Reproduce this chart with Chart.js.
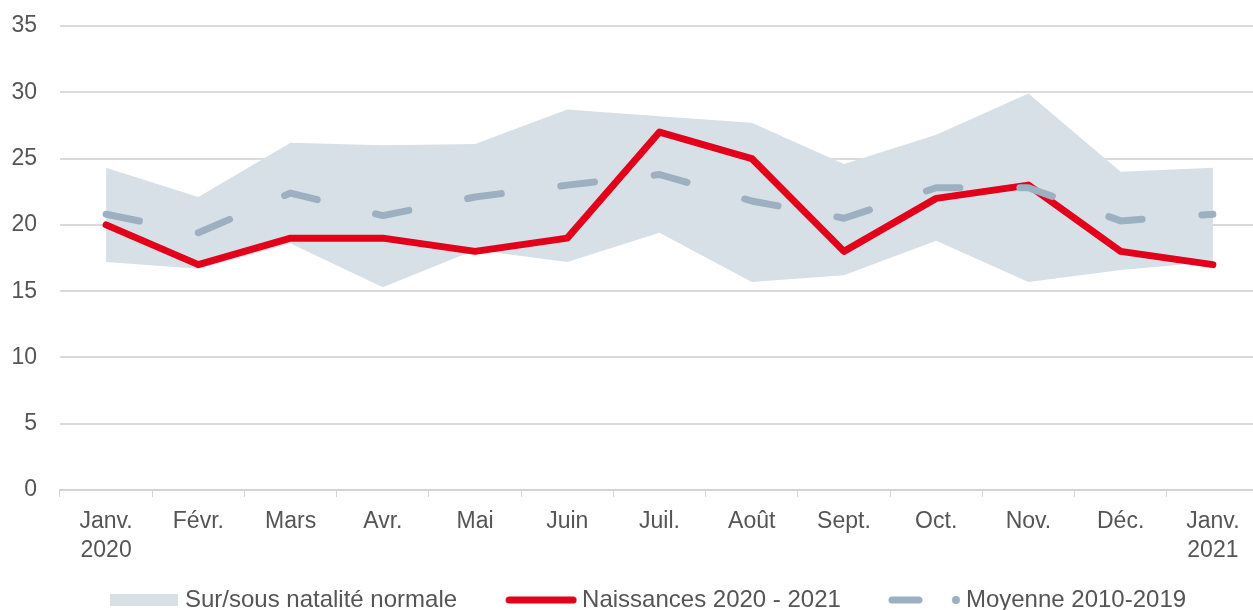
<!DOCTYPE html>
<html>
<head>
<meta charset="utf-8">
<script src="https://cdn.jsdelivr.net/npm/chart.js@4/dist/chart.umd.min.js"></script>
<style>
  html, body { margin: 0; padding: 0; background: #fff; overflow: hidden; }
  /* le graphique d'origine déborde légèrement à droite */
  #wrap { width: 1259px; height: 610px; position: relative; }
</style>
</head>
<body>
<div id="wrap"><canvas id="natChart"></canvas></div>
<script>
// Mois (axe X)
const months = [
    ['Janv.', '2020'], 'Févr.', 'Mars', 'Avr.', 'Mai', 'Juin', 'Juil.',
    'Août', 'Sept.', 'Oct.', 'Nov.', 'Déc.', ['Janv.', '2021']
];

// Naissances 2020 - 2021
const births = [20, 17, 19, 19, 18, 19, 27, 25, 18, 22, 23, 18, 17];

// Moyenne 2010-2019
const average = [20.8, 19.4, 22.4, 20.7, 22.1, 23.0, 23.8, 21.8, 20.5, 22.8, 22.8, 20.3, 20.8];

// Bande sur/sous natalité normale
const bandLow = [17.2, 16.7, 18.6, 15.3, 18.1, 17.2, 19.4, 15.7, 16.2, 18.8, 15.7, 16.6, 17.2];
const bandHigh = [24.3, 22.1, 26.2, 26.0, 26.1, 28.7, 28.2, 27.7, 24.6, 26.8, 29.9, 24.0, 24.3];

const yTicks = [0, 5, 10, 15, 20, 25, 30, 35];

const RED = '#e2001a';
const GREY = '#9cb0c1';
const BAND = '#d8e0e7';
const TEXT = '#555555';
const FONT = '"Liberation Sans", Arial, Helvetica, sans-serif';

// vignettes de légende : largeur de la boîte + 7px de débord de chaque côté
const SW = 100;
const IW = SW + 14;

function legendBox() {
    const c = document.createElement('canvas');
    c.width = IW; c.height = 14;
    const g = c.getContext('2d');
    g.fillStyle = BAND;
    g.fillRect(IW - 2 - 68, 1, 68, 12);
    return c;
}

function legendLine() {
    const c = document.createElement('canvas');
    c.width = IW; c.height = 10;
    const g = c.getContext('2d');
    g.strokeStyle = RED;
    g.lineWidth = 7;
    g.lineCap = 'round';
    g.beginPath();
    g.moveTo(IW - 4 - 64, 5); g.lineTo(IW - 4, 5);
    g.stroke();
    return c;
}

function legendDash() {
    const c = document.createElement('canvas');
    c.width = IW; c.height = 10;
    const g = c.getContext('2d');
    g.strokeStyle = GREY;
    g.fillStyle = GREY;
    g.lineWidth = 7;
    g.lineCap = 'round';
    const dotX = IW - 5;
    g.beginPath();
    g.moveTo(dotX - 64, 5); g.lineTo(dotX - 37, 5);
    g.stroke();
    g.beginPath();
    g.arc(dotX, 5, 4, 0, Math.PI * 2);
    g.fill();
    return c;
}

const legendImages = [legendBox(), legendLine(), legendDash()];
const legendNames = ['Sur/sous natalité normale', 'Naissances 2020 - 2021', 'Moyenne 2010-2019'];

const ctx = document.getElementById('natChart').getContext('2d');

new Chart(ctx, {
    type: 'line',
    data: {
        labels: months,
        datasets: [
            {
                label: 'Moyenne 2010-2019',
                data: average,
                borderColor: GREY,
                borderWidth: 7,
                borderDash: [34, 60],
                borderCapStyle: 'round',
                borderJoinStyle: 'round',
                pointRadius: 0,
                fill: false,
                tension: 0,
                order: 0
            },
            {
                label: 'Naissances 2020 - 2021',
                data: births,
                borderColor: RED,
                borderWidth: 7,
                borderCapStyle: 'round',
                borderJoinStyle: 'round',
                pointRadius: 0,
                fill: false,
                tension: 0,
                order: 1
            },
            {
                label: 'bas',
                data: bandLow,
                borderWidth: 0,
                borderColor: 'rgba(0,0,0,0)',
                pointRadius: 0,
                fill: false,
                tension: 0,
                order: 3
            },
            {
                label: 'Sur/sous natalité normale',
                data: bandHigh,
                borderWidth: 0,
                borderColor: 'rgba(0,0,0,0)',
                backgroundColor: BAND,
                pointRadius: 0,
                fill: '-1',
                tension: 0,
                order: 2
            }
        ]
    },
    options: {
        responsive: true,
        maintainAspectRatio: false,
        animation: false,
        layout: {
            padding: { left: 0, right: 0, top: 26, bottom: -12 }
        },
        plugins: {
            tooltip: { enabled: false },
            legend: {
                display: true,
                position: 'bottom',
                labels: {
                    usePointStyle: true,
                    pointStyleWidth: SW,
                    color: TEXT,
                    padding: 13,
                    font: { family: FONT, size: 24 },
                    generateLabels: function() {
                        return legendNames.map(function(n, i) {
                            return {
                                text: n,
                                pointStyle: legendImages[i],
                                fontColor: TEXT,
                                lineWidth: 0,
                                hidden: false
                            };
                        });
                    }
                }
            }
        },
        scales: {
            x: {
                offset: true,
                border: { display: true, color: '#d4d4d4', width: 2 },
                grid: {
                    display: true,
                    offset: true,
                    drawOnChartArea: false,
                    drawTicks: true,
                    tickLength: 7,
                    color: '#d4d4d4',
                    lineWidth: 1
                },
                ticks: {
                    color: TEXT,
                    maxRotation: 0,
                    autoSkip: false,
                    padding: 10,
                    font: { family: FONT, size: 23, lineHeight: 1.26 }
                }
            },
            y: {
                min: 0,
                max: 35,
                afterBuildTicks: function(axis) {
                    axis.ticks = yTicks.map(function(v) { return { value: v }; });
                },
                afterFit: function(axis) {
                    axis.width = 60;
                    axis.paddingTop = 0;
                    axis.paddingBottom = 0;
                },
                border: { display: false },
                grid: {
                    color: '#dadada',
                    lineWidth: 2,
                    drawTicks: false
                },
                ticks: {
                    color: TEXT,
                    padding: 23,
                    font: { family: FONT, size: 23 }
                }
            }
        }
    }
});
</script>
</body>
</html>
